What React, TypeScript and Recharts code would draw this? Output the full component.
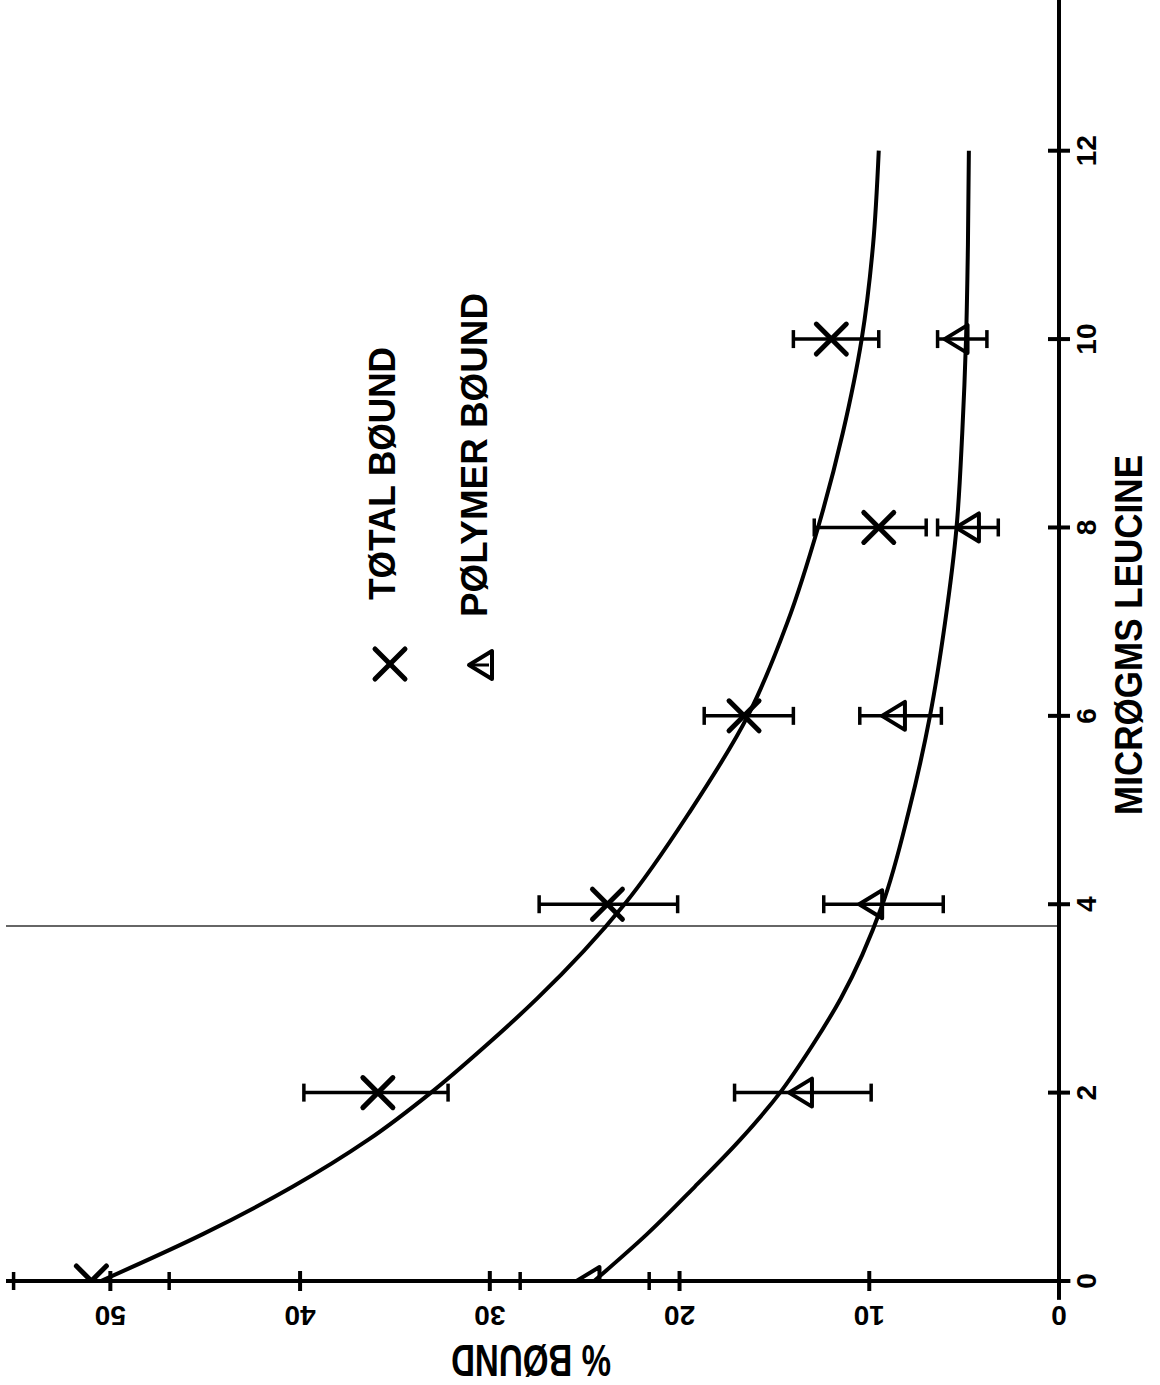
import React from 'react';
import { ComposedChart, Line, Scatter, XAxis, YAxis, ErrorBar, ReferenceLine, Legend } from 'recharts';

// axis ticks
const boundTicks = [0, 10, 20, 30, 40, 50];
const leucineTicks = [0, 2, 4, 6, 8, 10, 12];

// measured points: microgms leucine vs % bound, error as [below, above]
const pointLeucine = [0, 2, 4, 6, 8, 10];
const totalBound = [51.0, 35.9, 23.8, 16.6, 9.5, 12.0];
const totalErr = [[4.1, 4.1], [3.7, 3.9], [3.7, 3.6], [2.6, 2.1], [2.5, 3.4], [2.5, 2.0]];
const polymerBound = [24.8, 13.6, 9.9, 8.7, 4.8, 5.4];
const polymerErr = [[3.2, 3.6], [3.7, 3.5], [3.8, 2.5], [2.5, 1.8], [1.6, 1.6], [1.6, 1.0]];

// fitted curves
const curveLeucine = [0, 0.5, 1, 1.5, 2, 2.5, 3, 4, 5, 6, 7, 8, 9, 10, 11, 12];
const totalCurve = [50.5, 45.1, 40.4, 36.4, 33.1, 30.2, 27.5, 22.9, 19.4, 16.4, 14.3, 12.7, 11.4, 10.4, 9.8, 9.5];
const polymerCurve = [24.5, 21.7, 19.2, 16.8, 14.7, 13.0, 11.5, 9.3, 7.9, 6.8, 6.0, 5.4, 5.1, 4.9, 4.8, 4.75];

// scan artefact line across the sheet
const scanLine = 3.77;

const totalPts = pointLeucine.map((l, i) => ({ l, b: totalBound[i], e: totalErr[i] }));
const polymerPts = pointLeucine.map((l, i) => ({ l, b: polymerBound[i], e: polymerErr[i] }));
const totalLine = curveLeucine.map((l, i) => ({ l, b: totalCurve[i] }));
const polymerLine = curveLeucine.map((l, i) => ({ l, b: polymerCurve[i] }));

const TOTAL = 'TØTAL BØUND';
const POLYMER = 'PØLYMER BØUND';

const FONT = '"Liberation Sans", Arial, sans-serif';
const INK = '#000';

const XMark = ({ cx, cy }: any) => (
  <g stroke={INK} strokeWidth={5} strokeLinecap="round">
    <line x1={cx - 15} y1={cy - 15} x2={cx + 15} y2={cy + 15} />
    <line x1={cx - 15} y1={cy + 15} x2={cx + 15} y2={cy - 15} />
  </g>
);

const TriMark = ({ cx, cy }: any) => (
  <path
    d={`M${cx - 12},${cy} L${cx + 11},${cy - 14} L${cx + 11},${cy + 14} Z`}
    fill="none"
    stroke={INK}
    strokeWidth={4}
    strokeLinejoin="round"
  />
);

const BoundTick = ({ x, y, payload }: any) => {
  const ty = y + 25;
  return (
    <g>
      <line x1={x} x2={x} y1={y - 10} y2={y + 10} stroke={INK} strokeWidth={4} />
      <text
        x={x}
        y={ty}
        transform={`rotate(180 ${x} ${ty})`}
        textAnchor="middle"
        fontFamily={FONT}
        fontWeight="bold"
        fontSize={28}
        fill={INK}
      >
        {payload.value}
      </text>
    </g>
  );
};

const LeucineTick = ({ x, y, payload }: any) => {
  const tx = x + 37;
  return (
    <g>
      <line x1={x - 11} x2={x + 11} y1={y} y2={y} stroke={INK} strokeWidth={4} />
      <text
        x={tx}
        y={y}
        transform={`rotate(-90 ${tx} ${y})`}
        textAnchor="middle"
        fontFamily={FONT}
        fontWeight="bold"
        fontSize={28}
        fill={INK}
      >
        {payload.value}
      </text>
    </g>
  );
};

const BoundTitle = () => (
  <text
    x={531}
    y={1345}
    transform="rotate(180 531 1345)"
    textAnchor="middle"
    fontFamily={FONT}
    fontWeight="bold"
    fontSize={44}
    textLength={160}
    lengthAdjust="spacingAndGlyphs"
    fill={INK}
  >
    % BØUND
  </text>
);

const LeucineTitle = () => (
  <text
    x={1142}
    y={635}
    transform="rotate(-90 1142 635)"
    textAnchor="middle"
    fontFamily={FONT}
    fontWeight="bold"
    fontSize={38}
    textLength={360}
    lengthAdjust="spacingAndGlyphs"
    fill={INK}
  >
    MICRØGMS LEUCINE
  </text>
);

const legendRows: Record<string, { mx: number; bx: number; ty: number; len: number }> = {
  [TOTAL]: { mx: 40, bx: 45, ty: 320, len: 253 },
  [POLYMER]: { mx: 131, bx: 137, ty: 337, len: 324 },
};

const LegendBox = ({ payload }: any) => (
  <svg width={180} height={420}>
    {(payload || [])
      .filter((p: any) => legendRows[p.value])
      .map((it: any) => {
        const r = legendRows[it.value];
        return (
          <g key={it.value}>
            {it.value === TOTAL ? (
              <XMark cx={r.mx} cy={384} />
            ) : (
              <g>
                <TriMark cx={r.mx} cy={385} />
                <line x1={r.mx - 10} x2={r.mx + 8} y1={385} y2={385} stroke={INK} strokeWidth={3} />
              </g>
            )}
            <text
              x={r.bx}
              y={r.ty}
              transform={`rotate(-90 ${r.bx} ${r.ty})`}
              textAnchor="start"
              fontFamily={FONT}
              fontWeight="bold"
              fontSize={37}
              textLength={r.len}
              lengthAdjust="spacingAndGlyphs"
              fill={INK}
            >
              {it.value}
            </text>
          </g>
        );
      })}
  </svg>
);

export default function App() {
  return (
    <div style={{ width: 1160, height: 1385, background: '#fff' }}>
      <style>{'body{margin:0}'}</style>
      <ComposedChart width={1160} height={1385} margin={{ top: 0, right: 0, bottom: 0, left: 6 }}>
        <XAxis
          type="number"
          dataKey="b"
          domain={[0, 55.5]}
          reversed
          allowDataOverflow
          ticks={boundTicks}
          interval={0}
          tickSize={0}
          tickMargin={0}
          tick={<BoundTick />}
          axisLine={{ stroke: INK, strokeWidth: 4 }}
          height={104}
          label={<BoundTitle />}
        />
        <YAxis
          type="number"
          dataKey="l"
          orientation="right"
          domain={[0, 13.6]}
          allowDataOverflow
          ticks={leucineTicks}
          interval={0}
          tickSize={0}
          tickMargin={0}
          tick={<LeucineTick />}
          axisLine={{ stroke: INK, strokeWidth: 4 }}
          width={101}
          label={<LeucineTitle />}
        />
        <ReferenceLine y={scanLine} stroke="#333" strokeWidth={1.5} />
        <ReferenceLine
          segment={[{ x: 0, y: 0 }, { x: -0.6, y: 0 }]}
          stroke={INK}
          strokeWidth={4}
          ifOverflow="visible"
        />
        <ReferenceLine
          segment={[{ x: 0, y: 0 }, { x: 0, y: -0.2 }]}
          stroke={INK}
          strokeWidth={4}
          ifOverflow="visible"
        />
        <Line
          data={totalLine}
          dataKey="l"
          type="monotoneY"
          stroke={INK}
          strokeWidth={4}
          dot={false}
          legendType="none"
          isAnimationActive={false}
        />
        <Line
          data={polymerLine}
          dataKey="l"
          type="monotoneY"
          stroke={INK}
          strokeWidth={4}
          dot={false}
          legendType="none"
          isAnimationActive={false}
        />
        <Scatter name={TOTAL} data={totalPts} shape={<XMark />} fill={INK} isAnimationActive={false}>
          <ErrorBar dataKey="e" direction="x" width={9} stroke={INK} strokeWidth={3.5} />
        </Scatter>
        <Scatter name={POLYMER} data={polymerPts} shape={<TriMark />} fill={INK} isAnimationActive={false}>
          <ErrorBar dataKey="e" direction="x" width={9} stroke={INK} strokeWidth={3.5} />
        </Scatter>
        <Legend
          layout="vertical"
          align="center"
          verticalAlign="middle"
          wrapperStyle={{ left: 350, top: 280, width: 180, height: 420 }}
          content={<LegendBox />}
        />
      </ComposedChart>
    </div>
  );
}
